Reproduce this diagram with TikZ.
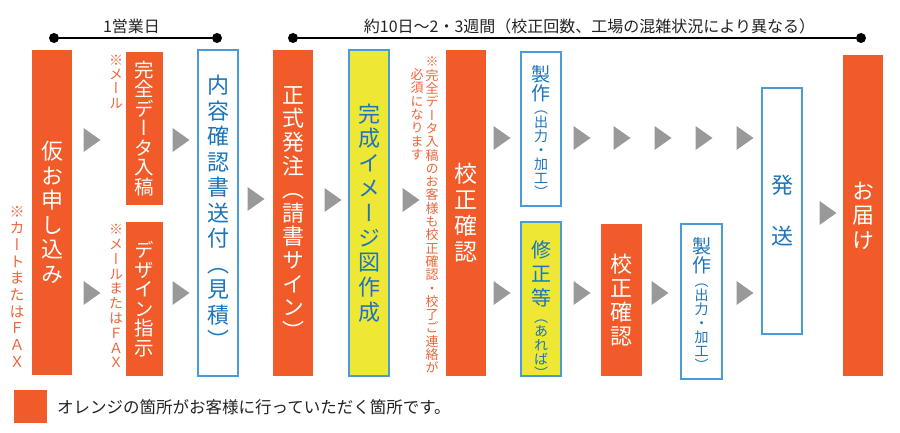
\documentclass[tikz,border=0pt]{standalone}
\usepackage{fontspec}
\setmainfont{Noto Sans CJK JP}
\newfontfamily\jp{Noto Sans CJK JP}
\newfontfamily\vjp[RawFeature=+vert]{Noto Sans CJK JP}
\definecolor{orng}{HTML}{F15A29}
\definecolor{ylw}{HTML}{EEE835}
\definecolor{bluetx}{HTML}{1B75BC}
\definecolor{bluebd}{HTML}{4A9BD9}
\definecolor{grayarr}{HTML}{999999}
\definecolor{notec}{HTML}{F0643A}
\definecolor{txtc}{HTML}{222222}
\makeatletter
\newdimen\vt@gap
\newif\ifvt@half
\def\vt@end{\vt@end}
\def\vt@lp{（}
\def\vt@rp{）}
\newcommand\vt[2][0pt]{\vt@gap=#1\relax\vbox{\offinterlineskip\vt@loop#2\vt@end\unkern}}
\newcommand\vth[2][0pt]{\vt@halftrue\vt[#1]{#2}}
\def\vt@loop#1{\ifx#1\vt@end\else\vt@char{#1}\expandafter\vt@loop\fi}
\def\vt@full#1{\hbox to 1em{\vrule height .88em depth .12em width 0pt\hss#1\hss}}
\def\vt@char#1{\def\vt@cur{#1}%
  \ifvt@half
    \ifx\vt@cur\vt@lp
      \hbox to 1em{\vrule height .38em depth .12em width 0pt\hss\smash{#1}\hss}%
    \else\ifx\vt@cur\vt@rp
      \hbox to 1em{\vrule height .38em depth .12em width 0pt\hss\smash{\lower.5em\hbox{#1}}\hss}%
    \else
      \vt@full{#1}%
    \fi\fi
  \else
    \vt@full{#1}%
  \fi
  \kern\vt@gap}
\makeatother
\newcommand\vf[1]{\vjp\fontsize{#1}{#1}\selectfont}
\newcommand\tri[2]{\fill[grayarr] (#1-8.5,#2-12) -- (#1+8.5,#2) -- (#1-8.5,#2+12) -- cycle;}
\begin{document}
\begin{tikzpicture}[x=1pt,y=-1pt,
  obox/.style={rectangle, fill=orng, draw=none, inner sep=0, minimum width=40, minimum height=#1, text=white},
  wbox/.style={rectangle, fill=white, draw=bluebd, line width=1.6, inner sep=0, minimum width=40, minimum height=#1, text=bluetx},
  ybox/.style={rectangle, fill=ylw, draw=bluebd, line width=1.6, inner sep=0, minimum width=40, minimum height=#1, text=bluetx},
  vtx/.style={inner sep=0},
  note/.style={inner sep=0, text=notec},
  dot/.style={circle, fill=black, inner sep=0, minimum size=10},
  htx/.style={inner sep=0, text=txtc, font=\jp\fontsize{16}{18}\selectfont}]
\useasboundingbox (0,0) rectangle (900,433);

% timelines
\node[dot] (t1a) at (54,38) {};
\node[dot] (t1b) at (217,38) {};
\draw[line width=1.3] (t1a) -- (t1b);
\node[htx] (t1t) at (131.5,26) {1営業日};
\node[dot] (t2a) at (293,38) {};
\node[dot] (t2b) at (861,38) {};
\draw[line width=1.3] (t2a) -- (t2b);
\node[htx] (t2t) at (589.5,26) {約10日〜2・3週間（校正回数、工場の混雑状況により異なる）};

% boxes
\node[obox=325] (kari) at (52,212.5) {\vf{22}\vt[2.5pt]{仮お申し込み}};
\node[obox=153, minimum width=37] (data) at (144.5,128.5) {\vf{19.5}\vt{完全データ入稿}};
\node[obox=154, minimum width=37] (design) at (144.5,299) {\vf{19.5}\vt{デザイン指示}};
\node[wbox=326] (naiyo) at (218,213) {\vf{22}\vt[3.5pt]{内容確認書送付（見積）}};
\node[obox=326] (seishiki) at (293,213) {\vf{22}\vt[1.6pt]{正式発注（請書サイン）}};
\node[ybox=326] (kansei) at (369,213) {\vf{22}\vt[2.8pt]{完成イメージ図作成}};
\node[obox=326] (kousei) at (466,213) {\vf{23}\vt[3pt]{校正確認}};
\node[wbox=154] (seisakuA) at (541,129) {};
\node[vtx, text=bluetx] (seisakuAt) at (541,84) {\vf{19}\vt{製作}};
\node[vtx, text=bluetx] (seisakuAs) at (541,150.5) {\vf{14}\vth{（出力・加工）}};
\node[ybox=154] (shusei) at (541,299) {};
\node[vtx, text=bluetx] (shuseit) at (541,274) {\vf{20}\vt[4pt]{修正等}};
\node[vtx, text=bluetx] (shuseis) at (541,345) {\vf{14}\vth{（あれば）}};
\node[obox=152, minimum width=41] (kousei2) at (621.5,300) {\vf{22}\vt[2pt]{校正確認}};
\node[wbox=155, minimum width=41] (seisakuB) at (701.5,301.5) {};
\node[vtx, text=bluetx] (seisakuBt) at (701.5,256) {\vf{19}\vt{製作}};
\node[vtx, text=bluetx] (seisakuBs) at (701.5,323.5) {\vf{14}\vth{（出力・加工）}};
\node[wbox=246] (hassou) at (782,211) {\vf{22}\vt[29pt]{発送}};
\node[obox=321] (otodoke) at (863,215.5) {\vf{22}\vt[2.4pt]{お届け}};

% notes
\node[note] (n1) at (17,286.5) {\vf{15}\vt[1.7pt]{※カートまたはＦＡＸ}};
\node[note] (n2) at (116,81.5) {\vf{14}\vt[0.3pt]{※メール}};
\node[note] (n3) at (116,296) {\vf{14}\vt[0.8pt]{※メールまたはＦＡＸ}};
\node[note] (n4) at (432,215) {\vf{13}\vt[0.3pt]{※完全データ入稿のお客様も校正確認・校了ご連絡が}};
\node[note, anchor=north] (n5) at (417,68) {\vf{13}\vt[0.3pt]{必須になります}};

% arrows
\tri{92}{140}
\tri{92}{293}
\tri{181}{140}
\tri{181}{293}
\tri{256}{199}
\tri{333}{200}
\tri{411}{200}
\tri{502}{138}
\tri{502}{293}
\tri{582}{138}
\tri{622}{138}
\tri{663}{138}
\tri{704}{138}
\tri{745}{138}
\tri{582}{293}
\tri{660}{293}
\tri{745}{293}
\tri{828}{213}

% legend
\node[rectangle, fill=orng, inner sep=0, minimum size=33] (leg) at (30.5,406.5) {};
\node[inner sep=0, anchor=west, text=txtc, font=\jp\fontsize{16.5}{18}\selectfont] (legt) at (57,407) {オレンジの箇所がお客様に行っていただく箇所です。};
\end{tikzpicture}
\end{document}
